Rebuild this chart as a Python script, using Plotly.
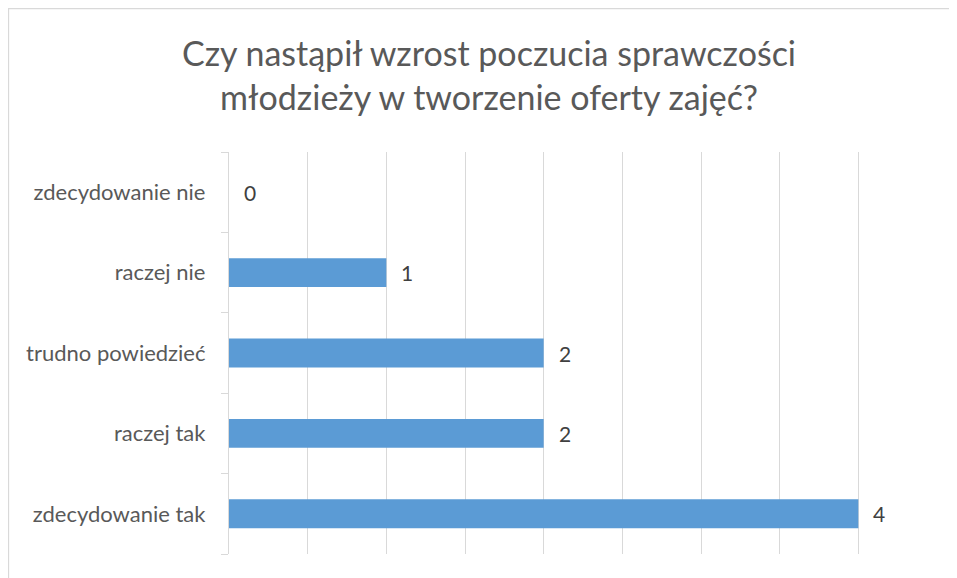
import plotly.graph_objects as go

categories = ["zdecydowanie tak", "raczej tak", "trudno powiedzieć", "raczej nie", "zdecydowanie nie"]
values = [4, 2, 2, 1, 0]
title_lines = ["Czy nastąpił wzrost poczucia sprawczości", "młodzieży w tworzenie oferty zajęć?"]

FONT = "Lato"
OFF = 8  # page body margin
W, H = 957 - OFF, 578 - OFF
L, R, T, B = 229 - OFF, 937 - OFF, 152 - OFF, 554 - OFF

fig = go.Figure()
fig.add_trace(go.Bar(
    x=values, y=categories, orientation="h",
    marker=dict(color="#5B9BD5", line=dict(width=0)),
    hoverinfo="skip",
))

for c, v in zip(categories, values):
    fig.add_annotation(x=v, y=c, xref="x", yref="y", text=str(v), showarrow=False,
                       xanchor="left", xshift=13,
                       font=dict(family=FONT, size=21, color="#404040"))

def px_x(p):
    return (p - L) / (R - L)

def px_y(p):
    return (B - p) / (B - T)

fig.add_shape(type="rect", xref="paper", yref="paper",
              x0=px_x(0.5), x1=px_x(1100), y0=px_y(0.5), y1=px_y(700),
              line=dict(color="#d9d9d9", width=1.3), layer="below")

fig.update_layout(
    width=W, height=H,
    margin=dict(l=L, r=W - R, t=T, b=H - B, pad=0),
    paper_bgcolor="white", plot_bgcolor="white",
    showlegend=False,
    bargap=0.64,
    title=dict(text="<br>".join(title_lines), x=481 / W, xref="container", xanchor="center",
               y=1 - 58 / H, yref="container", yanchor="top",
               font=dict(family=FONT, size=34, color="#595959")),
    xaxis=dict(range=[0, 4.5], dtick=0.5, showticklabels=False, showgrid=True,
               gridcolor="#d9d9d9", gridwidth=1.3, zeroline=False, showline=False,
               fixedrange=True),
    yaxis=dict(type="category", categoryorder="array", categoryarray=categories,
               showline=True, linecolor="#d9d9d9", linewidth=1.3,
               ticks="outside", tickson="boundaries", ticklen=7, tickcolor="#d9d9d9",
               tickwidth=1.3, showgrid=False, ticklabelstandoff=18,
               tickfont=dict(family=FONT, size=22, color="#595959"),
               fixedrange=True),
)

fig.write_html("out.html")
